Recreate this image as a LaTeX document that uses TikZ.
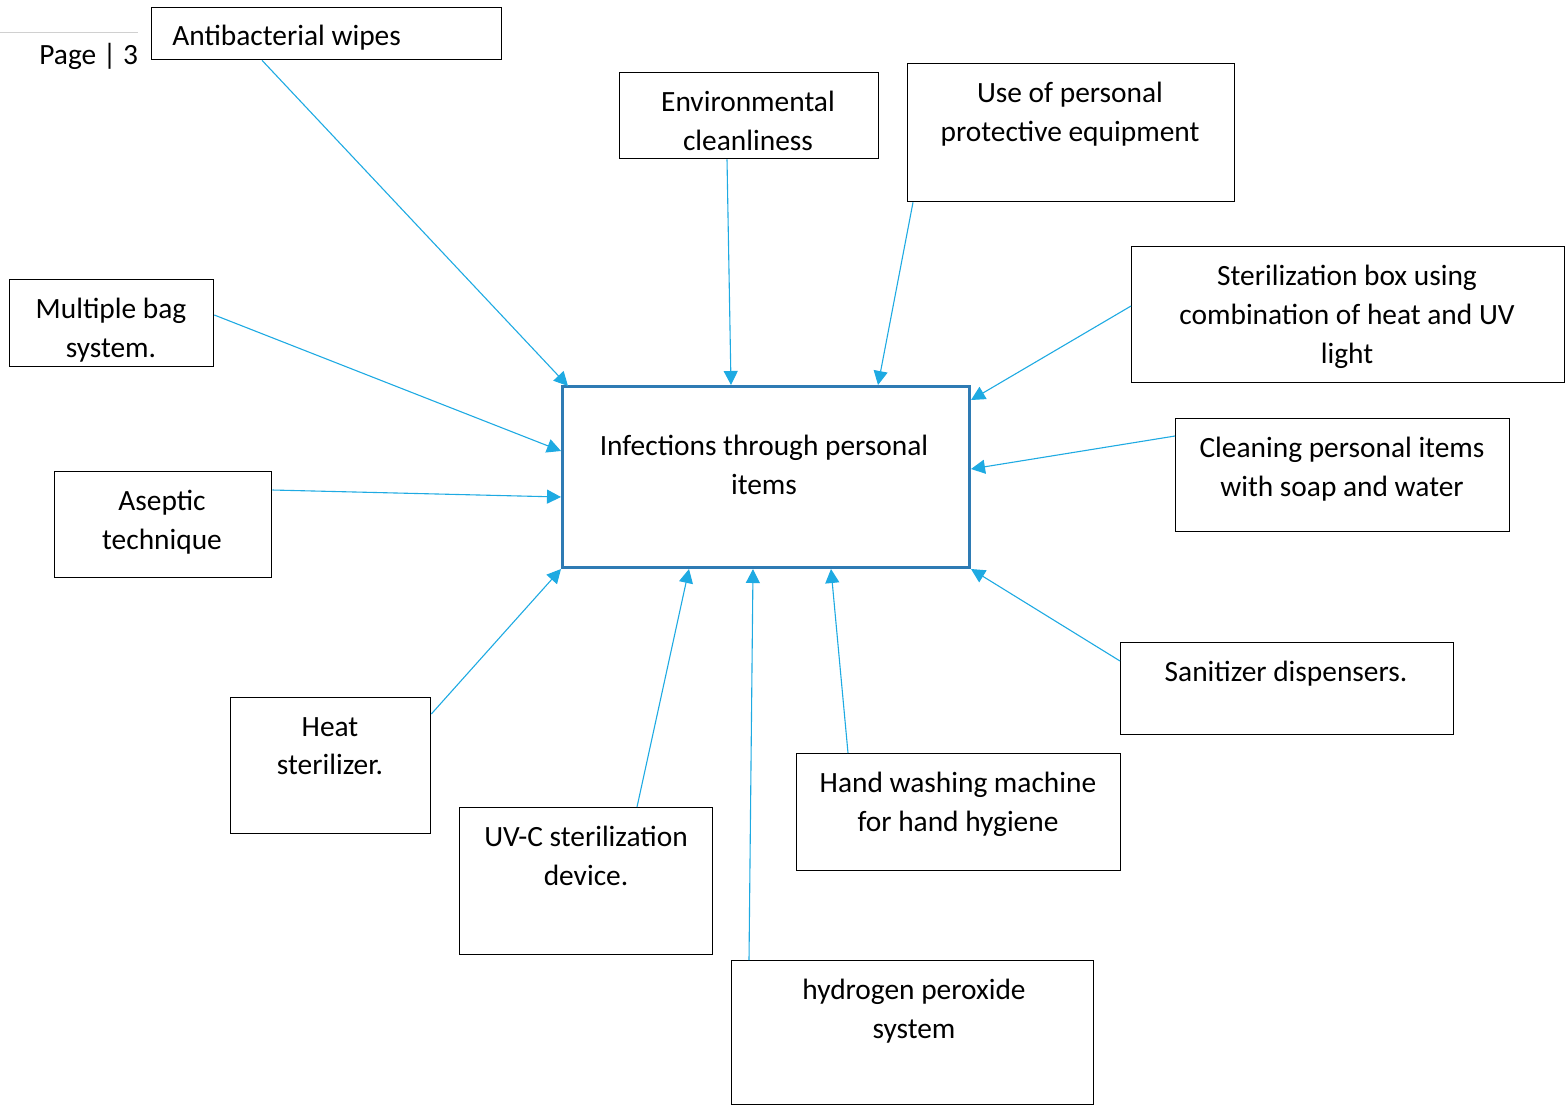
\documentclass[tikz,border=0pt]{standalone}
\usepackage{fontspec}
\setmainfont{Carlito}
\usetikzlibrary{arrows.meta}
\definecolor{arrblue}{HTML}{1EAAE2}
\definecolor{mainblue}{HTML}{2E7BB4}
\definecolor{pagegray}{HTML}{D0D0D0}
\begin{document}
\begin{tikzpicture}[x=0.5pt,y=-0.5pt,
  box/.style={draw=black,line width=0.65pt,inner sep=0pt,anchor=north west},
  txt/.style={inner sep=0pt,anchor=north,align=center,font=\fontsize{14.7pt}{19.3pt}\selectfont},
  arr/.style={draw=arrblue,line width=0.55pt,-{Triangle[length=7pt,width=7pt]}}]
\useasboundingbox (0,0) rectangle (1567,1104);
% page header
\draw[pagegray,line width=0.5pt] (0,32) -- (138,32);
\node[txt,anchor=base west] (page) at (39,64) {Page | 3};
% central box
\node[draw=mainblue,line width=1.5pt,inner sep=0pt,anchor=north west,minimum width=203.5pt,minimum height=90.5pt] (c) at (561,385) {};
\node[txt] (ct) at (764,435) {Infections through personal\\items};
% boxes
\node[box,minimum width=175pt,minimum height=26pt] (ab) at (151,7) {};
\node[txt,anchor=north west] at (172,25) {Antibacterial wipes};
\node[box,minimum width=129.5pt,minimum height=43pt] (env) at (619,72) {};
\node[txt] at (748,91) {Environmental\\cleanliness};
\node[box,minimum width=163.5pt,minimum height=69pt] (ppe) at (907,63) {};
\node[txt] at (1070,82) {Use of personal\\protective equipment};
\node[box,minimum width=216.5pt,minimum height=68pt] (ster) at (1131,246) {};
\node[txt] at (1347,265) {Sterilization box using\\combination of heat and UV\\light};
\node[box,minimum width=102pt,minimum height=43.5pt] (mb) at (9,279) {};
\begin{scope}
\clip (9,279) rectangle (213,366);
\node[txt] at (111,298) {Multiple bag\\system.};
\end{scope}
\node[box,minimum width=108.5pt,minimum height=53pt] (as) at (54,471) {};
\node[txt] at (162,490) {Aseptic\\technique};
\node[box,minimum width=167pt,minimum height=56.5pt] (cl) at (1175,418) {};
\node[txt] at (1342,437) {Cleaning personal items\\with soap and water};
\node[box,minimum width=166.5pt,minimum height=46pt] (san) at (1120,642) {};
\node[txt] at (1286,661) {Sanitizer dispensers.};
\node[box,minimum width=100pt,minimum height=68pt] (heat) at (230,697) {};
\node[txt] at (330,717) {Heat\\sterilizer.};
\node[box,minimum width=126.5pt,minimum height=73.5pt] (uv) at (459,807) {};
\node[txt] at (586,826) {UV-C sterilization\\device.};
\node[box,minimum width=162pt,minimum height=58.5pt] (hw) at (796,753) {};
\node[txt] at (958,772) {Hand washing machine\\for hand hygiene};
\node[box,minimum width=181pt,minimum height=72pt] (hp) at (731,960) {};
\node[txt] at (914,979) {hydrogen peroxide\\system};
% arrows
\draw[arr] (ab.south -| 262,0) -- (568,386);
\draw[arr] (env.south -| 727,0) -- (c.north -| 731,0);
\draw[arr] (ppe.south -| 913,0) -- (c.north -| 878,0);
\draw[arr] (ster.west |- 0,306) -- (c.east |- 0,400);
\draw[arr] (mb.east |- 0,315) -- (c.west |- 0,451);
\draw[arr] (as.east |- 0,490) -- (c.west |- 0,497);
\draw[arr] (cl.west |- 0,436) -- (c.east |- 0,469);
\draw[arr] (san.west |- 0,661) -- (c.south east);
\draw[arr] (hw.north -| 848,0) -- (c.south -| 831,0);
\draw[arr] (hp.north -| 749,0) -- (c.south -| 753,0);
\draw[arr] (uv.north -| 637,0) -- (c.south -| 689,0);
\draw[arr] (heat.east |- 0,714) -- (c.south west);
\end{tikzpicture}
\end{document}
